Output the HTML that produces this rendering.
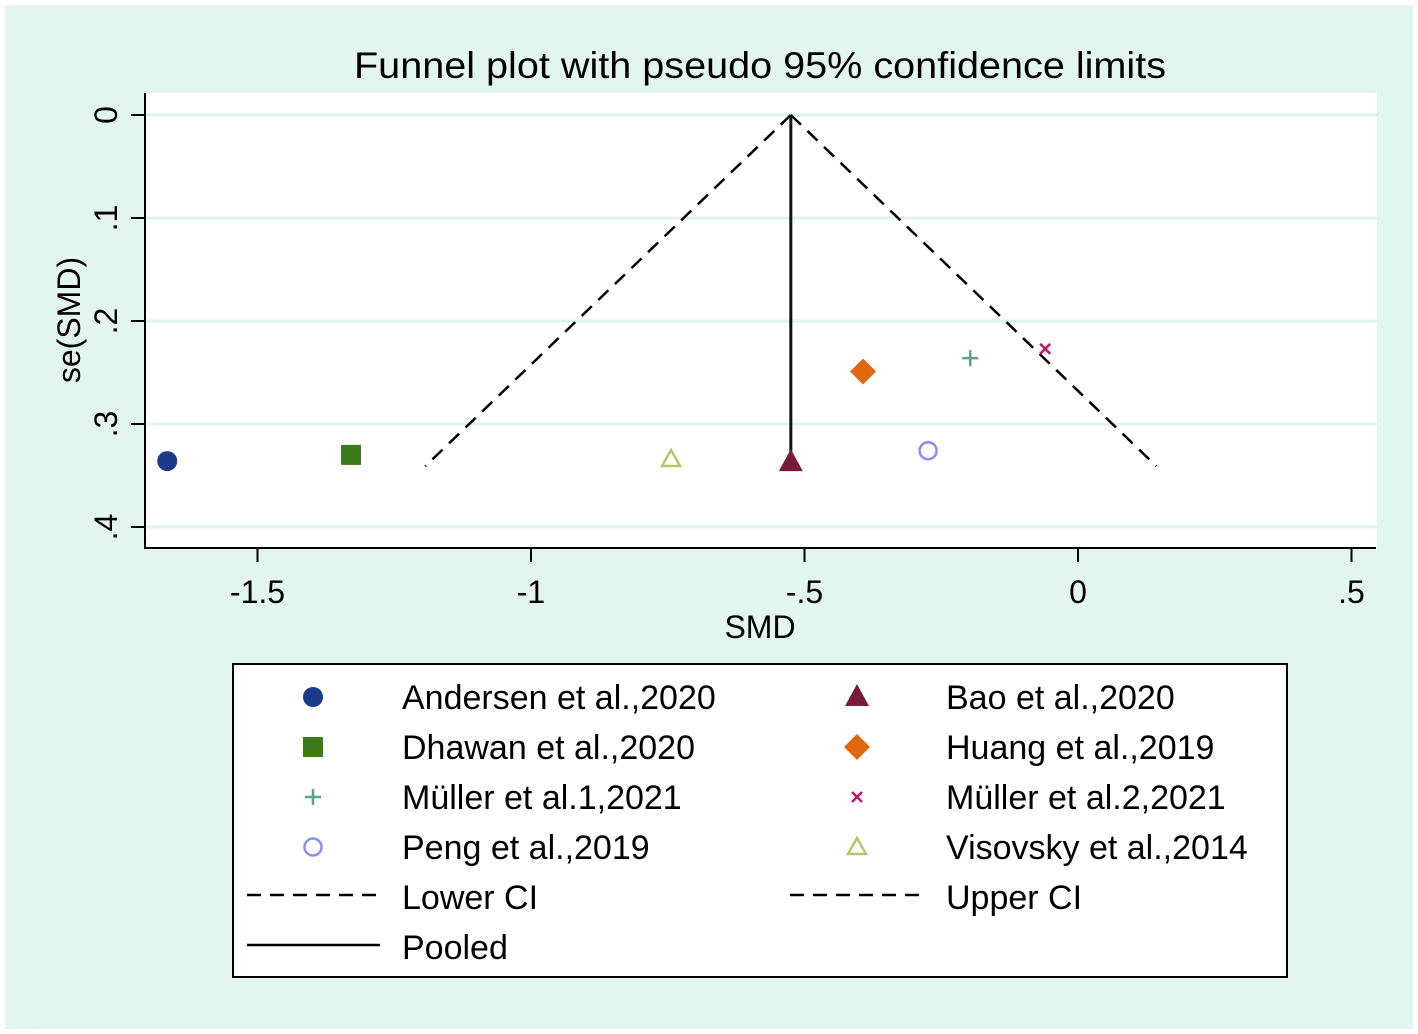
<!DOCTYPE html>
<html><head><meta charset="utf-8"><style>
html,body{margin:0;padding:0;background:#fff;}
svg{display:block;font-family:"Liberation Sans",Arial,sans-serif;}
</style></head><body>
<svg id="chart" width="1418" height="1034" viewBox="0 0 1418 1034">
<rect x="5" y="5" width="1408" height="1024" fill="#e3f5ef"/>
<rect x="145" y="93" width="1232" height="455" fill="#fff"/>
<text x="760" y="78" font-size="37" text-anchor="middle" textLength="812" lengthAdjust="spacingAndGlyphs">Funnel plot with pseudo 95% confidence limits</text>
<g id="grid"></g>
<g id="axes"></g>
<g id="marks"></g>
<text x="760" y="638" font-size="32" text-anchor="middle">SMD</text>
<text transform="translate(80,320) rotate(-90)" font-size="32" text-anchor="middle">se(SMD)</text>
<rect x="233" y="664" width="1054" height="313" fill="#fff" stroke="#000" stroke-width="2"/>
<g id="legend"></g>
</svg>
<script>
const studies=["Andersen et al.,2020","Dhawan et al.,2020","Müller et al.1,2021","Peng et al.,2019","Bao et al.,2020","Huang et al.,2019","Müller et al.2,2021","Visovsky et al.,2014"];
const smd=[-1.665,-1.329,-0.197,-0.274,-0.525,-0.393,-0.060,-0.744];
const se=[0.336,0.330,0.236,0.326,0.337,0.249,0.227,0.334];
const pooled=-0.525;
const maxSe=0.341;
const xTicks=[-1.5,-1,-0.5,0,0.5];
const xTickLabels=["-1.5","-1","-.5","0",".5"];
const yTicks=[0,0.1,0.2,0.3,0.4];
const yTickLabels=["0",".1",".2",".3",".4"];
const NS="http://www.w3.org/2000/svg";
const X=v=>1078+v*547;
const Y=v=>115+v*1030;
function mk(tag,attrs,parent){const e=document.createElementNS(NS,tag);for(const k in attrs)e.setAttribute(k,attrs[k]);parent.appendChild(e);return e;}
const grid=document.getElementById('grid'),axes=document.getElementById('axes'),marks=document.getElementById('marks'),leg=document.getElementById('legend');
yTicks.forEach((t,i)=>{
 const g=mk('line',{x1:146,x2:1377,y1:Y(t),y2:Y(t),stroke:'#dff2ec','stroke-width':3},grid);
 
 
 const tk=mk('line',{x1:131,x2:145,y1:Y(t),y2:Y(t),stroke:'#000','stroke-width':2},axes);
 
 
 const tx=mk('text',{transform:`translate(117,${Y(t)}) rotate(-90)`,'font-size':32,'text-anchor':'middle'},axes);
 tx.textContent=yTickLabels[i];
 
 
});
xTicks.forEach((t,i)=>{
 const tk=mk('line',{x1:X(t),x2:X(t),y1:548,y2:562,stroke:'#000','stroke-width':2},axes);
 
 
 const tx=mk('text',{x:X(t),y:603,'font-size':32,'text-anchor':'middle'},axes);
 tx.textContent=xTickLabels[i];
 
 
});
let a=mk('line',{x1:145,x2:145,y1:93,y2:549,stroke:'#000','stroke-width':2},axes);

a=mk('line',{x1:144,x2:1376,y1:548,y2:548,stroke:'#000','stroke-width':2},axes);

let l=mk('line',{x1:X(pooled),y1:Y(0),x2:X(pooled-1.96*maxSe),y2:Y(maxSe),stroke:'#000','stroke-width':2.5,'stroke-dasharray':'14 9'},marks);

l=mk('line',{x1:X(pooled),y1:Y(0),x2:X(pooled+1.96*maxSe),y2:Y(maxSe),stroke:'#000','stroke-width':2.5,'stroke-dasharray':'14 9'},marks);

l=mk('line',{x1:X(pooled),y1:Y(0),x2:X(pooled),y2:Y(maxSe),stroke:'#111','stroke-width':3},marks);

const styles=[['circle','#1a3a8a'],['square','#3d7a1a'],['plus','#5aa67f'],['ocircle','#8c8cf5'],['tri','#7a1a3a'],['diamond','#e0670f'],['x','#c21a63'],['otri','#b9c46a']];
function sym(kind,c,x,y,p){
 if(kind==='circle')return mk('circle',{cx:x,cy:y,r:10,fill:c},p);
 if(kind==='square')return mk('rect',{x:x-10,y:y-10,width:20,height:20,fill:c},p);
 if(kind==='plus')return mk('path',{d:`M${x-8},${y}H${x+8}M${x},${y-8}V${y+8}`,stroke:c,'stroke-width':2.5,fill:'none'},p);
 if(kind==='ocircle')return mk('circle',{cx:x,cy:y,r:8.5,fill:'none',stroke:c,'stroke-width':2.5},p);
 if(kind==='tri')return mk('path',{d:`M${x},${y-13}L${x+12},${y+9}H${x-12}Z`,fill:c},p);
 if(kind==='diamond')return mk('path',{d:`M${x},${y-13}L${x+13},${y}L${x},${y+13}L${x-13},${y}Z`,fill:c},p);
 if(kind==='x')return mk('path',{d:`M${x-5},${y-5}L${x+5},${y+5}M${x+5},${y-5}L${x-5},${y+5}`,stroke:c,'stroke-width':2.5},p);
 return mk('path',{d:`M${x},${y-9}L${x+9},${y+7}H${x-9}Z`,fill:'none',stroke:c,'stroke-width':2.5},p);
}
smd.forEach((v,i)=>{
 const m=sym(styles[i][0],styles[i][1],X(v),Y(se[i]),marks);
 
 
});
const legOrder=[[0,4],[1,5],[2,6],[3,7]];
legOrder.forEach((pair,r)=>{
 pair.forEach((idx,c)=>{
  const y=697+r*50, sx=c?857:313, tx=c?946:402;
  const s=sym(styles[idx][0],styles[idx][1],sx,y,leg);
  
  
  const t=mk('text',{x:tx,y:y+12,'font-size':34},leg);
  t.textContent=studies[idx];
  
  
 });
});
[['Lower CI',247,402,897,true],['Upper CI',790,946,897,true],['Pooled',247,402,947,false]].forEach(e=>{
 const ln=mk('line',{x1:e[1],x2:e[1]+133,y1:e[3]-2,y2:e[3]-2,stroke:'#000','stroke-width':2.5},leg);
 if(e[4])ln.setAttribute('stroke-dasharray','14 9');
 
 
 const t=mk('text',{x:e[2],y:e[3]+12,'font-size':34},leg);
 t.textContent=e[0];
 
 
});
</script>
</body></html>
